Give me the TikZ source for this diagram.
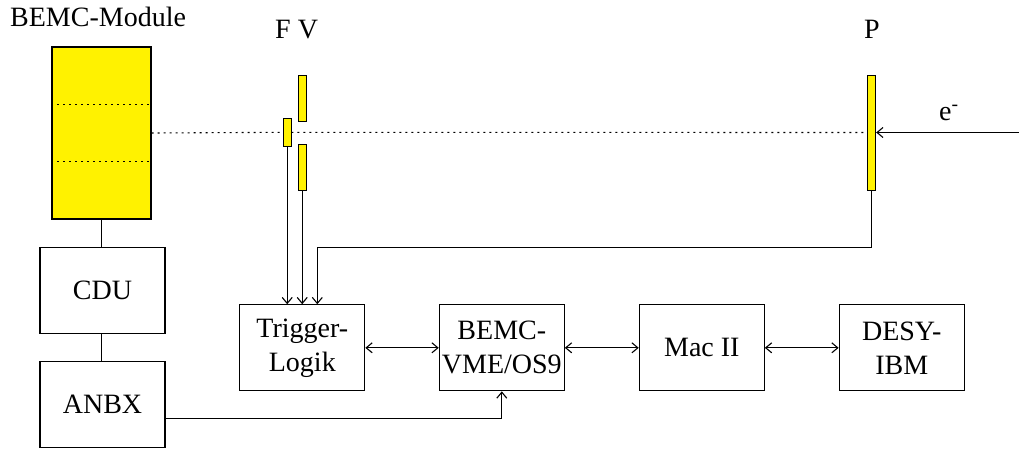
\documentclass[tikz,border=0pt]{standalone}
\usepackage{fontspec}
\setmainfont{Liberation Serif}
\usetikzlibrary{arrows.meta,calc}
\begin{document}
\begin{tikzpicture}[x=1pt,y=-1pt,
  box/.style={draw,line width=1.1pt,minimum width=125pt,minimum height=86pt,inner sep=0pt,align=center,font=\fontsize{28}{34}\selectfont},
  bar/.style={draw,line width=0.9pt,fill=yellow,inner sep=0pt},
  lbl/.style={inner sep=0pt,anchor=base west,font=\fontsize{28}{33}\selectfont},
  conn/.style={line width=1.1pt},
  arr/.style={line width=1.1pt,-{Straight Barb[length=6pt,width=10pt]}},
  darr/.style={line width=1.1pt,{Straight Barb[length=6pt,width=10pt]}-{Straight Barb[length=6pt,width=10pt]}},
  dot/.style={line width=1.1pt,dash pattern=on 2pt off 4pt}]
\useasboundingbox (0,0) rectangle (1019,448);
% labels
\node[lbl] (tmod) at (10,26.7) {BEMC-Module};
\node[lbl] (tfv) at (275,38.3) {F V};
\node[lbl] (tp) at (864,38.3) {P};
\node[inner sep=0pt,anchor=base west,font=\fontsize{28}{33}\selectfont] (te) at (939,120) {e\textsuperscript{-}};
% module
\node[bar,line width=1.1pt,minimum width=99pt,minimum height=172pt] (mod) at (101.5,133) {};
\draw[dot] ($(mod.north west)!0.333!(mod.south west)$) -- ($(mod.north east)!0.333!(mod.south east)$);
\draw[dot] ($(mod.north west)!0.667!(mod.south west)$) -- ($(mod.north east)!0.667!(mod.south east)$);
% FV bars
\node[bar,minimum width=7.5pt,minimum height=28.7pt] (fva) at (287.2,132.3) {};
\node[bar,minimum width=7.7pt,minimum height=45.7pt] (fvb) at (302.2,98.2) {};
\node[bar,minimum width=7.7pt,minimum height=46pt] (fvc) at (302.2,167.3) {};
% P bar
\node[bar,minimum width=8pt,minimum height=115pt] (pb) at (871.7,132.5) {};
% boxes
\node[box] (cdu) at (102.5,290.2) {CDU};
\node[box] (anbx) at (102.5,404.5) {ANBX};
\node[box] (trig) at (302.3,347.8) {Trigger-\\Logik};
\node[box] (vme) at (501.8,347.8) {BEMC-\\VME/OS9};
\node[box] (mac) at (701.8,347.8) {Mac II};
\node[box] (desy) at (901.7,347.8) {DESY-\\IBM};
% dotted beam line
\draw[dot] (mod.east) -- (fva.west);
\draw[dot] (fva.east) -- (pb.west);
% e- arrow
\coordinate (ein) at (1019,132.5);
\draw[arr] (ein) -- (pb.east);
% connectors
\draw[conn] (mod.south) -- (mod.south |- cdu.north);
\draw[conn] (mod.south |- cdu.south) -- (mod.south |- anbx.north);
\draw[arr] (fva.south) -- (fva.south |- trig.north);
\draw[arr] (fvc.south) -- (fvc.south |- trig.north);
\coordinate (pc) at (871.7,247.7);
\coordinate (tc) at (317.3,247.7);
\draw[arr] (pb.south) -- (pc) -- (tc) -- (tc |- trig.north);
\draw[darr] (trig.east) -- (vme.west);
\draw[darr] (vme.east) -- (mac.west);
\draw[darr] (mac.east) -- (desy.west);
\coordinate (ae) at (anbx.east |- 0,418.3);
\coordinate (vb) at (vme.south |- 0,418.3);
\draw[arr] (ae) -- (vb) -- (vme.south);
\end{tikzpicture}
\end{document}
